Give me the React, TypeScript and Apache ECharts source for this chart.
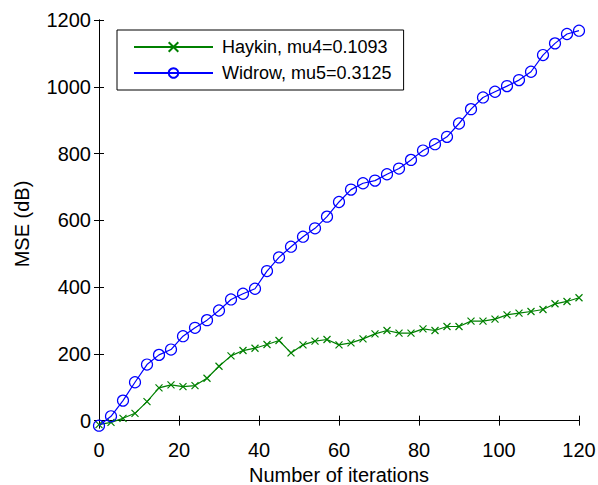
import React, { useEffect, useRef } from "react";
import * as echarts from "echarts";

const iterations = [0, 3, 6, 9, 12, 15, 18, 21, 24, 27, 30, 33, 36, 39, 42, 45, 48, 51, 54, 57, 60, 63, 66, 69, 72, 75, 78, 81, 84, 87, 90, 93, 96, 99, 102, 105, 108, 111, 114, 117, 120];
const haykin = [-12, -5, 7, 22, 57, 98, 107, 102, 105, 127, 163, 194, 210, 217, 228, 240, 203, 227, 238, 243, 227, 233, 245, 260, 270, 262, 262, 275, 270, 282, 282, 298, 298, 304, 317, 322, 327, 333, 350, 357, 368];
const widrow = [-15, 13, 60, 115, 168, 197, 213, 253, 278, 301, 330, 363, 380, 395, 448, 489, 521, 551, 576, 611, 655, 692, 711, 719, 738, 755, 781, 809, 828, 850, 890, 933, 968, 985, 1002, 1020, 1045, 1095, 1130, 1158, 1168];
const yTicks = [0, 200, 400, 600, 800, 1000, 1200];
const seriesNames = ["Haykin, mu4=0.1093", "Widrow, mu5=0.3125"];

const FONT = "Liberation Sans, Arial, Helvetica, sans-serif";

export default function App() {
  const ref = useRef<HTMLDivElement>(null);
  useEffect(() => {
    if (!ref.current) return;
    const chart = echarts.init(ref.current, null, { renderer: "svg" });
    const axisLine = { show: true, lineStyle: { color: "#000", width: 1 } };
    const tickStyle = { lineStyle: { color: "#000", width: 1 } };
    const plain = (v: number) => String(v);
    chart.setOption({
      animation: false,
      backgroundColor: "#fff",
      textStyle: { fontFamily: FONT, color: "#000" },
      grid: { left: 99, right: 19, top: 20, bottom: 57, containLabel: false, outerBoundsMode: "none" },
      legend: {
        left: 117,
        top: 30,
        orient: "vertical",
        data: seriesNames,
        itemWidth: 79,
        itemHeight: 12,
        itemGap: 6,
        padding: [7, 12, 7, 16],
        borderColor: "#000",
        borderWidth: 1,
        backgroundColor: "#fff",
        textStyle: { fontFamily: FONT, fontSize: 18, color: "#000", lineHeight: 20, padding: [0, 0, 0, 4] },
      },
      xAxis: [
        {
          type: "value",
          min: 0,
          max: 120,
          interval: 20,
          position: "bottom",
          name: "Number of iterations",
          nameLocation: "middle",
          nameGap: 32,
          nameTextStyle: { fontFamily: FONT, fontSize: 20, lineHeight: 20, color: "#000" },
          axisLine,
          axisTick: { show: true, inside: true, length: 5, ...tickStyle },
          axisLabel: { show: true, fontFamily: FONT, fontSize: 20, color: "#000", margin: 12, formatter: plain },
          splitLine: { show: false },
        },
        {
          type: "value",
          min: 0,
          max: 120,
          interval: 20,
          position: "top",
          axisLine,
          axisTick: { show: true, inside: true, length: 5, ...tickStyle },
          axisLabel: { show: false },
          splitLine: { show: false },
        },
      ],
      yAxis: [
        {
          type: "value",
          min: -22,
          max: 1200,
          position: "left",
          name: "MSE (dB)",
          nameLocation: "middle",
          nameGap: 67,
          nameTextStyle: { fontFamily: FONT, fontSize: 20, lineHeight: 20, color: "#000" },
          axisLine,
          axisTick: { show: true, inside: true, length: 5, customValues: yTicks, ...tickStyle },
          axisLabel: { show: true, fontFamily: FONT, fontSize: 20, color: "#000", margin: 8, customValues: yTicks, formatter: plain },
          splitLine: { show: false },
        },
        {
          type: "value",
          min: -22,
          max: 1200,
          position: "right",
          axisLine,
          axisTick: { show: true, inside: true, length: 5, customValues: yTicks, ...tickStyle },
          axisLabel: { show: false, customValues: yTicks },
          splitLine: { show: false },
        },
      ],
      series: [
        {
          name: seriesNames[0],
          type: "line",
          xAxisIndex: 0,
          yAxisIndex: 0,
          data: iterations.map((x, i) => [x, haykin[i]]),
          symbol: "path://M0,0L10,10M10,0L0,10",
          symbolSize: 7,
          showAllSymbol: true,
          lineStyle: { color: "#008000", width: 1.2 },
          itemStyle: { color: "#008000", borderColor: "#008000", borderWidth: 1.2 },
          z: 2,
        },
        {
          name: seriesNames[1],
          type: "line",
          xAxisIndex: 0,
          yAxisIndex: 0,
          data: iterations.map((x, i) => [x, widrow[i]]),
          symbol: "circle",
          symbolSize: 11,
          showAllSymbol: true,
          lineStyle: { color: "#0000ff", width: 1.2 },
          itemStyle: { color: "rgba(255,255,255,0)", borderColor: "#0000ff", borderWidth: 1.2 },
          z: 3,
        },
      ],
    });
    return () => chart.dispose();
  }, []);
  return (
    <div
      ref={ref}
      style={{ position: "fixed", left: 0, top: 0, width: 598, height: 485, background: "#fff" }}
    />
  );
}
